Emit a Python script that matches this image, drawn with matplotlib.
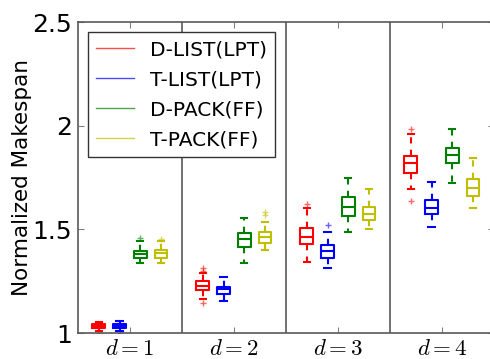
import matplotlib
matplotlib.use("Agg")
from matplotlib import pyplot as plt
from matplotlib.lines import Line2D

plt.rcParams['mathtext.fontset'] = 'cm'

# 读出的箱线图统计量，每组 d=1..4
groups = ["$d=1$", "$d=2$", "$d=3$", "$d=4$"]
methods = ["D-LIST(LPT)", "T-LIST(LPT)", "D-PACK(FF)", "T-PACK(FF)"]
colors = ["r", "b", "g", "y"]

# 每个方法: [whislo, q1, med, q3, whishi] 对应 d=1..4
d_list = [[1.010, 1.025, 1.035, 1.045, 1.055],
          [1.164, 1.207, 1.228, 1.251, 1.291],
          [1.344, 1.429, 1.465, 1.508, 1.605],
          [1.695, 1.773, 1.822, 1.855, 1.958]]
t_list = [[1.010, 1.025, 1.035, 1.045, 1.058],
          [1.154, 1.188, 1.211, 1.223, 1.269],
          [1.312, 1.360, 1.396, 1.424, 1.486],
          [1.513, 1.573, 1.605, 1.642, 1.730]]
d_pack = [[1.336, 1.360, 1.380, 1.397, 1.444],
          [1.336, 1.416, 1.452, 1.484, 1.553],
          [1.489, 1.564, 1.609, 1.655, 1.749],
          [1.722, 1.819, 1.859, 1.891, 1.984]]
t_pack = [[1.336, 1.363, 1.384, 1.400, 1.444],
          [1.400, 1.433, 1.462, 1.486, 1.537],
          [1.500, 1.545, 1.575, 1.609, 1.695],
          [1.605, 1.661, 1.701, 1.743, 1.846]]

# 离群点
d_list_fl = [[1.000], [1.299, 1.312, 1.146], [1.622], [1.984, 1.637]]
t_list_fl = [[1.000], [], [1.521], []]
d_pack_fl = [[1.457], [], [], []]
t_pack_fl = [[1.455], [1.569, 1.582], [], []]

all_stats = [d_list, t_list, d_pack, t_pack]
all_fliers = [d_list_fl, t_list_fl, d_pack_fl, t_pack_fl]


def do_plt():
    fig = plt.figure(figsize=(4.9, 3.59), dpi=100)
    ax = fig.add_axes([0.159, 0.0724, 0.849, 0.8663])

    for m in range(4):
        c = colors[m]
        stats = []
        pos = []
        for g in range(4):
            lo, q1, med, q3, hi = all_stats[m][g]
            stats.append(dict(whislo=lo, q1=q1, med=med, q3=q3, whishi=hi,
                              fliers=all_fliers[m][g]))
            pos.append(5 * g + 1 + m)
        ax.bxp(stats, positions=pos, widths=0.6, manage_ticks=False,
               boxprops=dict(color=c, lw=1.5),
               medianprops=dict(color=c, lw=1.5),
               whiskerprops=dict(color=c, lw=1.5, linestyle=(0, (3, 3))),
               capprops=dict(color=c, lw=1.5),
               flierprops=dict(marker="+", markeredgecolor=c, markersize=5,
                               alpha=0.6, markeredgewidth=1))

    for x in [5, 10, 15]:
        ax.axvline(x, color="0.35", lw=1.2)

    ax.set_xlim(0, 20)
    ax.set_ylim(1, 2.5)
    ax.set_xticks([2.5, 7.5, 12.5, 17.5])
    ax.set_xticklabels(groups, fontsize=16.5)
    ax.set_yticks([1, 1.5, 2, 2.5])
    ax.set_yticklabels(["1", "1.5", "2", "2.5"], fontsize=18)
    ax.tick_params(direction="in", top=True, right=True, length=4,
                   color="0.5")
    ax.tick_params(axis="x", pad=3)
    ax.tick_params(axis="y", pad=4)
    for s in ax.spines.values():
        s.set_color("0.35")
        s.set_linewidth(1.2)
    ax.set_ylabel("Normalized Makespan", fontsize=15.5)
    ax.yaxis.set_label_coords(-0.11, 0.5)

    handles = [Line2D([], [], color=c, lw=1, alpha=0.7) for c in colors]
    leg = ax.legend(handles, methods, loc="upper left",
                    bbox_to_anchor=(0.024, 0.968), borderaxespad=0,
                    fontsize=14.5, fancybox=False, edgecolor="0.2",
                    framealpha=1, handlelength=1.9, labelspacing=0.55)
    leg.get_frame().set_linewidth(1.0)

    fig.savefig("out.png", dpi=100)


if __name__ == '__main__':
    do_plt()
